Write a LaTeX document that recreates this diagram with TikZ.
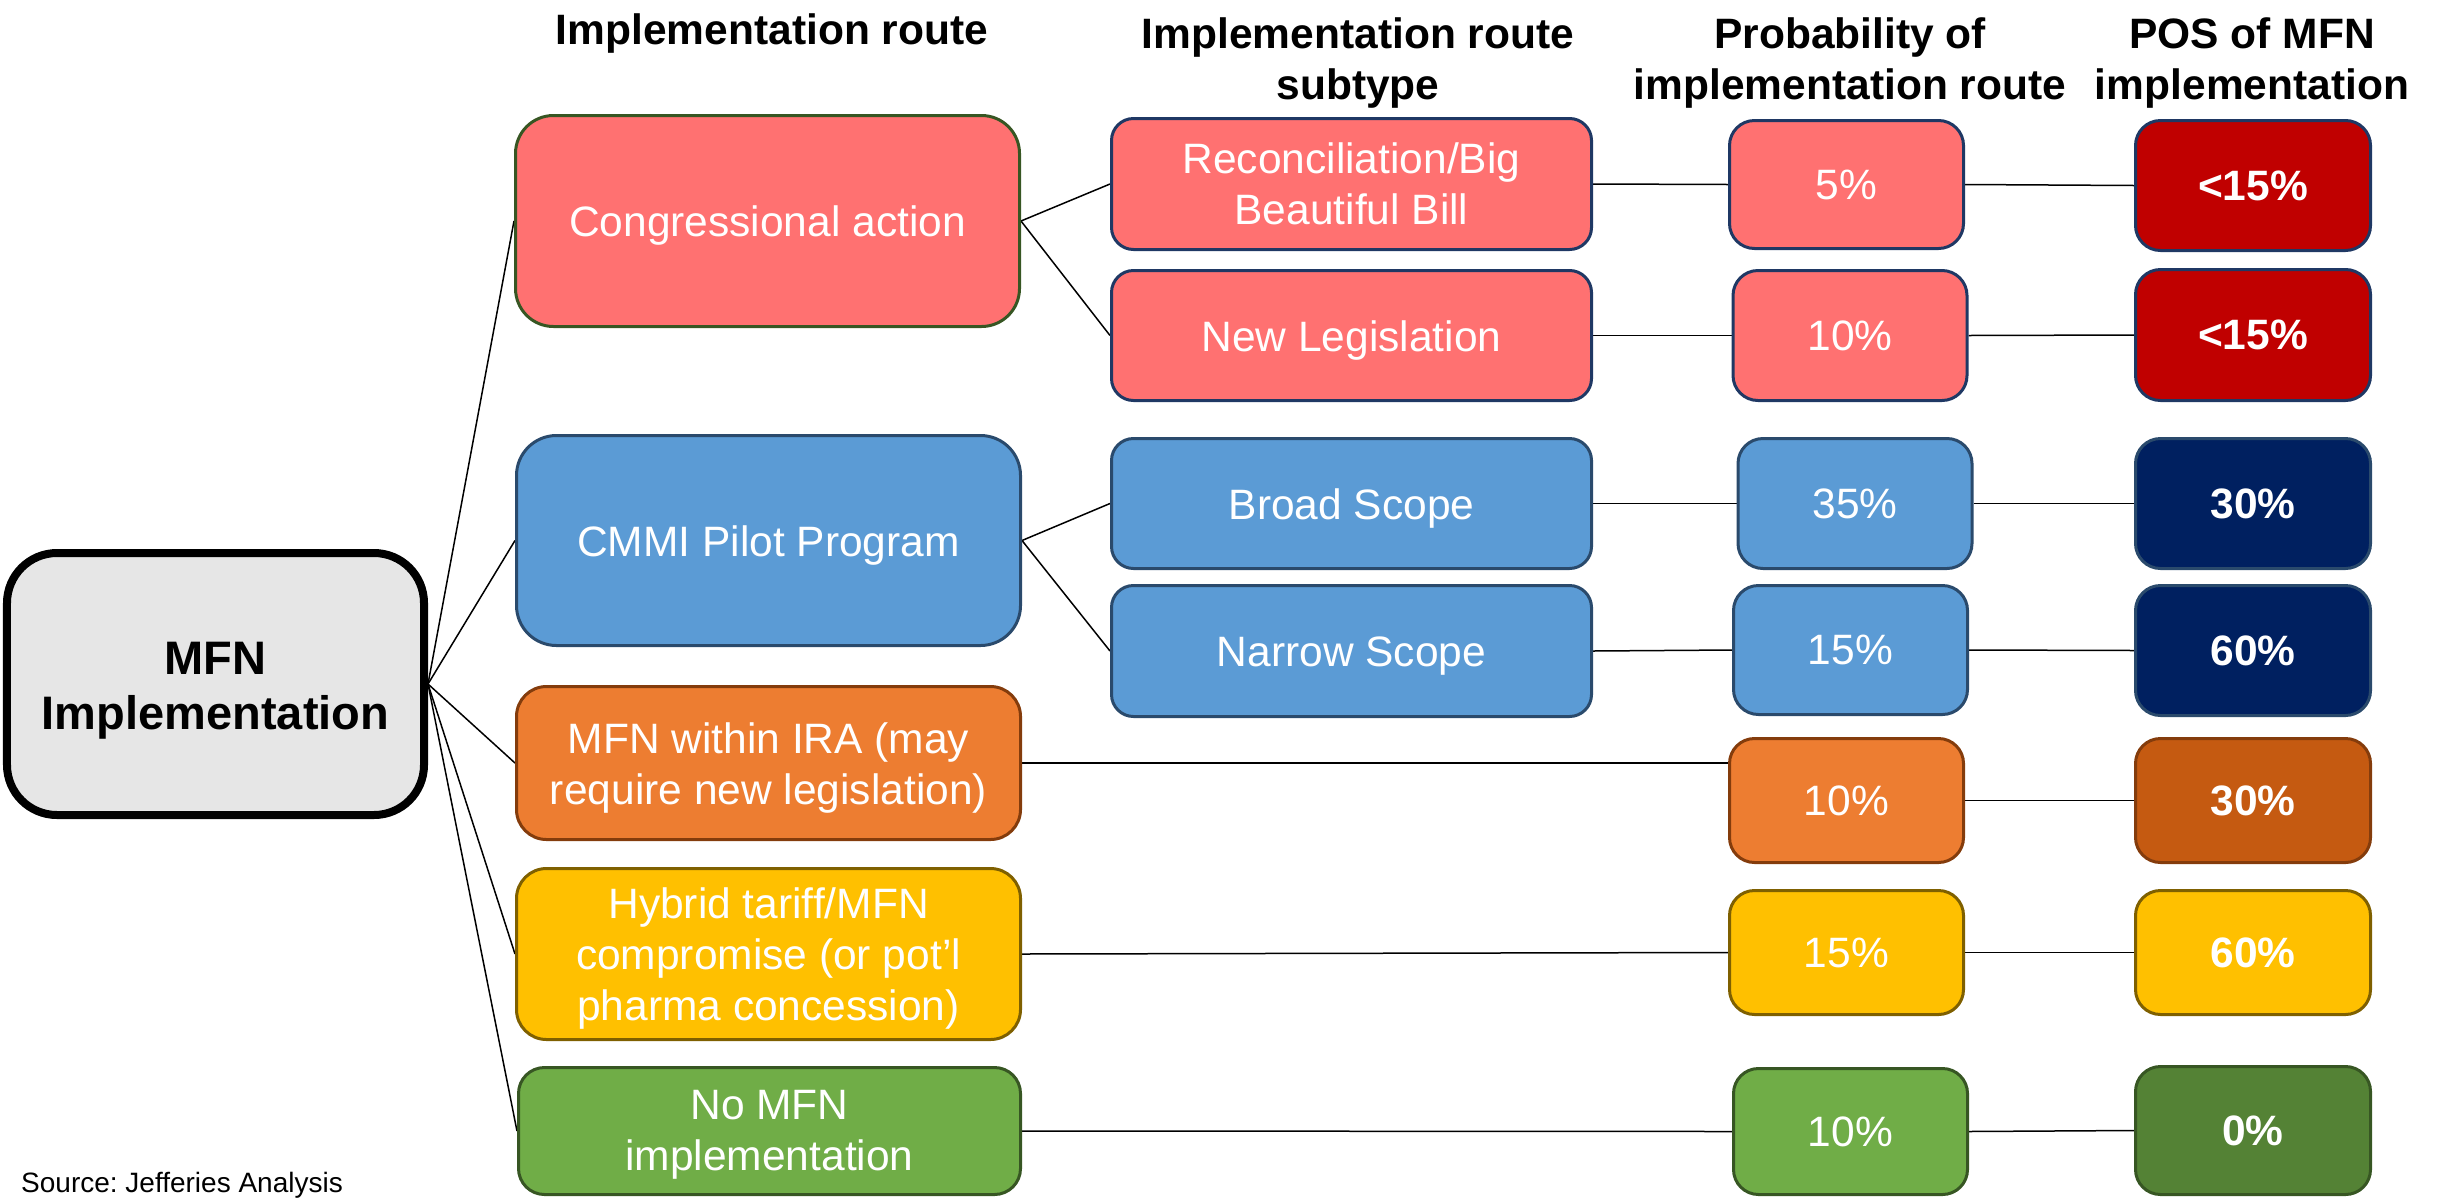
\documentclass[tikz,border=0pt]{standalone}
\usepackage{fontspec}
\setmainfont{Liberation Sans}
\usetikzlibrary{backgrounds}
\frenchspacing

% fills
\definecolor{salmon}{HTML}{FF7171}
\definecolor{deepred}{HTML}{C00000}
\definecolor{skyblue}{HTML}{5B9BD5}
\definecolor{navy}{HTML}{002060}
\definecolor{tangerine}{HTML}{ED7D31}
\definecolor{burnt}{HTML}{C55A11}
\definecolor{amber}{HTML}{FFC000}
\definecolor{leaf}{HTML}{70AD47}
\definecolor{forest}{HTML}{548235}
\definecolor{rootgray}{HTML}{E6E6E6}
% outlines
\definecolor{lineblue}{HTML}{1F3864}
\definecolor{linesteel}{HTML}{2A4A6C}
\definecolor{linegreen}{HTML}{375623}
\definecolor{linebrown}{HTML}{843C0C}
\definecolor{lineolive}{HTML}{7F6000}

\newcommand\bxfont{\fontsize{42.5bp}{51bp}\selectfont}
\newcommand\hdfont{\fontsize{42.5bp}{51bp}\selectfont\bfseries}
\newcommand\rootfont{\fontsize{47bp}{55bp}\selectfont\bfseries}
\newcommand\srcfont{\fontsize{28bp}{33bp}\selectfont}

\begin{document}
\begin{tikzpicture}[x=1bp,y=-1bp,
  conn/.style={line width=1.5bp, black},
  tile/.style={draw, line width=3bp, inner sep=0pt, align=center, text=white, font=\bxfont},
  sz/.style 2 args={minimum width=#1bp, minimum height=#2bp},
  % caption laid over a box, set on the cap-height centre
  tag/.style={inner sep=0pt, align=center, text=white, font=\bxfont},
  hdr/.style={inner sep=0pt, align=center, font=\hdfont, text=black},
  route/.style={tile, sz={504}{#1}},
  subtype/.style={tile, sz={480}{#1}, rounded corners=22bp},
  prob/.style={tile, sz={234}{#1}, rounded corners=25bp},
  pos/.style={tile, sz={235}{#1}, rounded corners=25bp, font=\bxfont\bfseries}
]
\useasboundingbox (0,0) rectangle (2440,1197);

% column headings
\node[hdr, anchor=north] (h1) at (772,13) {Implementation route};
\node[hdr, anchor=north] (h2) at (1358,17.5) {Implementation route\\subtype};
\node[hdr, anchor=north] (h3) at (1850,17.5) {Probability of\\implementation route};
\node[hdr, anchor=north] (h4) at (2252,17.5) {POS of MFN\\implementation};

% root
\node[draw=black, line width=8bp, fill=rootgray, rounded corners=50bp, sz={417}{262},
      inner sep=0pt] (root) at (215.5,684) {};
\node[tag, text=black, font=\rootfont] (root-t) at ([yshift=-6.5bp]root.center) {MFN\\Implementation};

% implementation routes
\node[route=211, fill=salmon, draw=linegreen, rounded corners=38bp] (ca) at (767.5,221) {};
\node[route=210, fill=skyblue, draw=linesteel, rounded corners=40bp] (cmmi) at (768.5,540.5) {};
\node[route=153, fill=tangerine, draw=linebrown, rounded corners=30bp] (ira) at (768.5,763) {};
\node[route=171, fill=amber, draw=lineolive, rounded corners=30bp] (hyb) at (768.5,954) {};
\node[tile, sz={502}{127}, fill=leaf, draw=linegreen, rounded corners=26bp] (none) at (769.5,1131) {};
\node[tag] (ca-t) at ([yshift=-5bp]ca.center) {Congressional action};
\node[tag] (cmmi-t) at ([yshift=-5bp]cmmi.center) {CMMI Pilot Program};
\node[tag] (ira-t) at ([yshift=-5bp]ira.center) {MFN within IRA (may\\require new legislation)};
\node[tag] (hyb-t) at ([yshift=-4bp]hyb.center) {Hybrid tariff/MFN\\compromise (or pot’l\\pharma concession)};
\node[tag] (none-t) at ([yshift=-4bp]none.center) {No MFN\\implementation};

% route subtypes
\node[subtype=131, fill=salmon, draw=lineblue] (rec) at (1351.5,184) {Reconciliation/Big\\Beautiful Bill};
\node[subtype=130, fill=salmon, draw=lineblue] (leg) at (1351.5,335.5) {};
\node[subtype=130, fill=skyblue, draw=linesteel] (broad) at (1351.5,503.5) {};
\node[subtype=131, fill=skyblue, draw=linesteel] (narrow) at (1351.5,651) {};
\node[tag] (leg-t) at ([yshift=-5.5bp]leg.center) {New Legislation};
\node[tag] (broad-t) at ([yshift=-5bp]broad.center) {Broad Scope};
\node[tag] (narrow-t) at ([yshift=-5bp]narrow.center) {Narrow Scope};

% probability of each route
\node[prob=128, fill=salmon, draw=lineblue] (p1) at (1846.5,184.5) {5\%};
\node[prob=130, fill=salmon, draw=lineblue] (p2) at (1850,335.5) {10\%};
\node[prob=130, fill=skyblue, draw=linesteel] (p3) at (1855,503.5) {35\%};
\node[prob=129, fill=skyblue, draw=linesteel] (p4) at (1850.5,650) {15\%};
\node[prob=124, fill=tangerine, draw=linebrown] (p5) at (1846.5,800.5) {10\%};
\node[prob=124, fill=amber, draw=lineolive] (p6) at (1846.5,952.5) {15\%};
\node[prob=126, fill=leaf, draw=linegreen] (p7) at (1850.5,1131.5) {10\%};

% probability of success
\node[pos=130, fill=deepred, draw=lineblue] (s1) at (2253,185.5) {<15\%};
\node[pos=131, fill=deepred, draw=lineblue] (s2) at (2253,335) {<15\%};
\node[pos=130, fill=navy, draw=linesteel] (s3) at (2253,503.5) {30\%};
\node[pos=130, fill=navy, draw=linesteel] (s4) at (2253,650.5) {60\%};
\node[pos=124, fill=burnt, draw=linebrown] (s5) at (2253,800.5) {30\%};
\node[pos=124, fill=amber, draw=lineolive] (s6) at (2253,952.5) {60\%};
\node[pos=128, fill=forest, draw=linegreen] (s7) at (2253,1130.5) {0\%};

% source line
\node[anchor=base west, inner sep=0pt, font=\srcfont] (src) at (21,1192) {Source: Jefferies Analysis};

% connectors
\begin{scope}[on background layer]
  \foreach \r in {ca,cmmi,ira,hyb,none} \draw[conn] (root.east) -- (\r.west);
  \draw[conn] (ca.east) -- (rec.west);
  \draw[conn] (ca.east) -- (leg.west);
  \draw[conn] (cmmi.east) -- (broad.west);
  \draw[conn] (cmmi.east) -- (narrow.west);
  \draw[conn] (rec.east) -- (p1.west);
  \draw[conn] (leg.east) -- (p2.west);
  \draw[conn] (broad.east) -- (p3.west);
  \draw[conn] (narrow.east) -- (p4.west);
  \draw[conn] (ira.east) -- (ira.east -| p5.west);
  \draw[conn] (hyb.east) -- (p6.west);
  \draw[conn] (none.east) -- (p7.west);
  \draw[conn] (p1.east) -- (s1.west);
  \draw[conn] (p2.east) -- (s2.west);
  \draw[conn] (p3.east) -- (s3.west);
  \draw[conn] (p4.east) -- (s4.west);
  \draw[conn] (p5.east) -- (s5.west);
  \draw[conn] (p6.east) -- (s6.west);
  \draw[conn] (p7.east) -- (s7.west);
\end{scope}
\end{tikzpicture}
\end{document}
